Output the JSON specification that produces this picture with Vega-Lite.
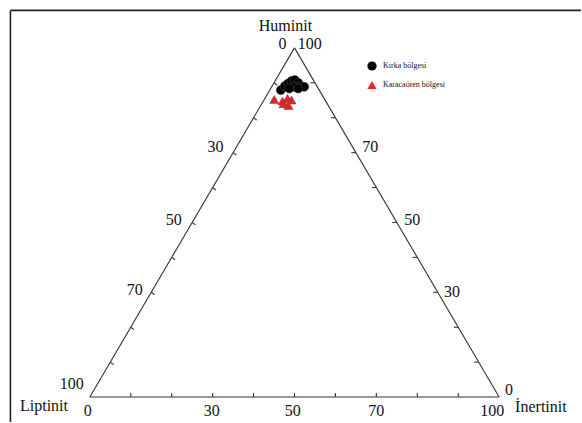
{
  "$schema": "https://vega.github.io/schema/vega-lite/v6.json",
  "width": 582,
  "height": 423,
  "padding": 0,
  "autosize": {"type": "fit", "contains": "padding"},
  "background": "white",
  "config": {"view": {"stroke": null}},
  "encoding": {
    "x": {"field": "x", "type": "quantitative", "axis": null, "scale": {"domain": [-21.95, 120.0], "zero": false, "nice": false}},
    "y": {"field": "y", "type": "quantitative", "axis": null, "scale": {"domain": [-6.19, 98.48], "zero": false, "nice": false}}
  },
  "layer": [
    {
      "data": {"values": [
        {"x": -19.4, "y": -6.19, "x2": -19.4, "y2": 95.9},
        {"x": -19.4, "y": 95.9, "x2": 120, "y2": 95.9}
      ]},
      "mark": {"type": "rule", "color": "#222222", "strokeWidth": 1.6},
      "encoding": {"x2": {"field": "x2"}, "y2": {"field": "y2"}}
    },
    {
      "data": {"values": [
        {"x": 0, "y": 0, "x2": 50, "y2": 86.6},
        {"x": 50, "y": 86.6, "x2": 100, "y2": 0},
        {"x": 0, "y": 0, "x2": 100, "y2": 0}
      ]},
      "mark": {"type": "rule", "color": "#333333", "strokeWidth": 1.1},
      "encoding": {"x2": {"field": "x2"}, "y2": {"field": "y2"}}
    },
    {
      "data": {"values": [
        {"x": 10, "y": 0, "x2": 10, "y2": 1.0},
        {"x": 20, "y": 0, "x2": 20, "y2": 1.0},
        {"x": 30, "y": 0, "x2": 30, "y2": 1.0},
        {"x": 40, "y": 0, "x2": 40, "y2": 1.0},
        {"x": 50, "y": 0, "x2": 50, "y2": 1.0},
        {"x": 60, "y": 0, "x2": 60, "y2": 1.0},
        {"x": 70, "y": 0, "x2": 70, "y2": 1.0},
        {"x": 80, "y": 0, "x2": 80, "y2": 1.0},
        {"x": 90, "y": 0, "x2": 90, "y2": 1.0},
        {"x": 45, "y": 77.94, "x2": 45.8, "y2": 77.34},
        {"x": 40, "y": 69.28, "x2": 40.8, "y2": 68.68},
        {"x": 35, "y": 60.62, "x2": 35.8, "y2": 60.02},
        {"x": 30, "y": 51.96, "x2": 30.8, "y2": 51.36},
        {"x": 25, "y": 43.3, "x2": 25.8, "y2": 42.7},
        {"x": 20, "y": 34.64, "x2": 20.8, "y2": 34.04},
        {"x": 15, "y": 25.98, "x2": 15.8, "y2": 25.38},
        {"x": 10, "y": 17.32, "x2": 10.8, "y2": 16.72},
        {"x": 5, "y": 8.66, "x2": 5.8, "y2": 8.06},
        {"x": 55, "y": 77.94, "x2": 53.9, "y2": 77.94},
        {"x": 60, "y": 69.28, "x2": 58.9, "y2": 69.28},
        {"x": 65, "y": 60.62, "x2": 63.9, "y2": 60.62},
        {"x": 70, "y": 51.96, "x2": 68.9, "y2": 51.96},
        {"x": 75, "y": 43.3, "x2": 73.9, "y2": 43.3},
        {"x": 80, "y": 34.64, "x2": 78.9, "y2": 34.64},
        {"x": 85, "y": 25.98, "x2": 83.9, "y2": 25.98},
        {"x": 90, "y": 17.32, "x2": 88.9, "y2": 17.32},
        {"x": 95, "y": 8.66, "x2": 93.9, "y2": 8.66}
      ]},
      "mark": {"type": "rule", "color": "#333333", "strokeWidth": 1.1},
      "encoding": {"x2": {"field": "x2"}, "y2": {"field": "y2"}}
    },
    {
      "data": {"values": [
        {"x": -0.5, "y": -3.5, "label": "0"},
        {"x": 29.8, "y": -3.5, "label": "30"},
        {"x": 49.6, "y": -3.5, "label": "50"},
        {"x": 70.0, "y": -3.5, "label": "70"},
        {"x": 98.3, "y": -3.5, "label": "100"},
        {"x": -4.4, "y": 3.2, "label": "100"},
        {"x": 11.0, "y": 26.5, "label": "70"},
        {"x": 20.5, "y": 43.8, "label": "50"},
        {"x": 30.7, "y": 62.1, "label": "30"},
        {"x": 47.1, "y": 87.6, "label": "0"},
        {"x": 53.7, "y": 87.6, "label": "100"},
        {"x": 68.5, "y": 62.1, "label": "70"},
        {"x": 78.8, "y": 43.8, "label": "50"},
        {"x": 88.5, "y": 26.0, "label": "30"},
        {"x": 102.4, "y": 1.7, "label": "0"}
      ]},
      "mark": {"type": "text", "font": "Liberation Serif", "fontSize": 16, "align": "center", "baseline": "middle", "color": "#111111"},
      "encoding": {"text": {"field": "label"}}
    },
    {
      "data": {"values": [
        {"x": 47.8, "y": 92.0, "label": "Huminit"},
        {"x": -11.2, "y": -2.3, "label": "Liptinit"},
        {"x": 110.2, "y": -2.4, "label": "İnertinit"}
      ]},
      "mark": {"type": "text", "font": "Liberation Serif", "fontSize": 16, "align": "center", "baseline": "middle", "color": "#111111"},
      "encoding": {"text": {"field": "label"}}
    },
    {
      "data": {"values": [
        {"group": "Kırka bölgesi", "x": 46.66, "y": 76.13},
        {"group": "Kırka bölgesi", "x": 47.63, "y": 77.12},
        {"group": "Kırka bölgesi", "x": 48.46, "y": 77.77},
        {"group": "Kırka bölgesi", "x": 49.27, "y": 78.36},
        {"group": "Kırka bölgesi", "x": 50.07, "y": 78.61},
        {"group": "Kırka bölgesi", "x": 50.90, "y": 77.94},
        {"group": "Kırka bölgesi", "x": 51.54, "y": 77.12},
        {"group": "Kırka bölgesi", "x": 52.37, "y": 76.95},
        {"group": "Kırka bölgesi", "x": 49.93, "y": 76.95},
        {"group": "Kırka bölgesi", "x": 48.71, "y": 76.53},
        {"group": "Kırka bölgesi", "x": 50.90, "y": 76.53},
        {"group": "Karacaören bölgesi", "x": 45.05, "y": 73.82},
        {"group": "Karacaören bölgesi", "x": 47.07, "y": 73.42},
        {"group": "Karacaören bölgesi", "x": 48.29, "y": 74.07},
        {"group": "Karacaören bölgesi", "x": 49.27, "y": 73.67},
        {"group": "Karacaören bölgesi", "x": 47.32, "y": 72.74},
        {"group": "Karacaören bölgesi", "x": 48.54, "y": 72.32}
      ]},
      "mark": {"type": "point", "filled": true, "opacity": 1, "size": 85, "stroke": "#555555", "strokeWidth": 0.5},
      "encoding": {
        "color": {"field": "group", "type": "nominal", "scale": {"domain": ["Kırka bölgesi", "Karacaören bölgesi"], "range": ["#000000", "#ee2024"]},
          "legend": {"title": null, "orient": "none", "legendX": 367, "legendY": 61, "padding": 0, "symbolSize": 85, "symbolOpacity": 1, "symbolStrokeWidth": 0, "labelFont": "Liberation Serif", "labelFontSize": 8, "labelColor": "#111111", "rowPadding": 9, "labelOffset": 6}},
        "shape": {"field": "group", "type": "nominal", "scale": {"domain": ["Kırka bölgesi", "Karacaören bölgesi"], "range": ["circle", "triangle-up"]}, "legend": {"title": null}}
      }
    }
  ]
}
